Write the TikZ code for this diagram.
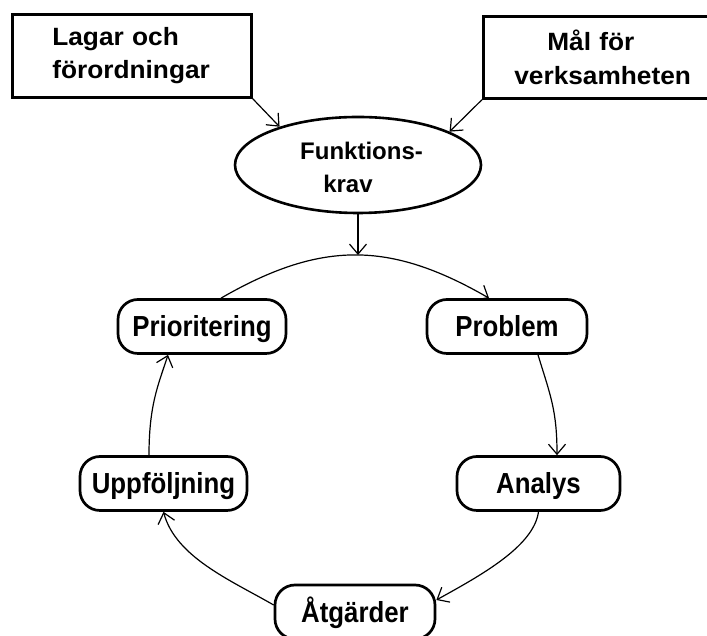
\documentclass[tikz,border=0pt]{standalone}
\usepackage{fontspec}
\setmainfont{Liberation Sans}
\newfontfamily\topfont[FakeStretch=1.05]{Liberation Sans}
\newfontfamily\elfont{Liberation Sans}
\newfontfamily\nodefont[FakeStretch=0.89]{Liberation Sans}
\usetikzlibrary{arrows.meta,shapes.geometric,calc}
\begin{document}
\begin{tikzpicture}[x=1pt,y=1pt,
  tbox/.style={draw, line width=2.7pt, rectangle, inner ysep=0pt, align=left,
    font=\topfont\bfseries\fontsize{25}{33.5}\selectfont, anchor=north west},
  rbox/.style={draw, line width=2.7pt, rounded corners=20pt, inner sep=0pt,
    minimum height=54pt, text height=21pt, text depth=0pt,
    font=\nodefont\bfseries\fontsize{29}{33}\selectfont},
  conn/.style={line width=1.2pt, -{Straight Barb[length=10pt,width=17pt]}}]
\useasboundingbox (0,0) rectangle (707,636);
\clip (0,0) rectangle (707,636);
\fill[white] (0,0) rectangle (707,636);
% top boxes
\node[tbox, minimum height=83pt, text width=159pt, inner xsep=40pt] (law) at (11,623)
  {Lagar och\\förordningar};
\node[tbox, minimum height=82pt, text width=190pt, inner xsep=31pt] (goal) at (482,621)
  {\hspace*{33pt}Mål för\\verksamheten};
% ellipse
\node[draw, ellipse, line width=2.6pt, minimum width=246pt, minimum height=96pt,
  inner sep=0pt, align=center, font=\elfont\bfseries\fontsize{24}{33}\selectfont]
  (fk) at (358,471) {\rule{0pt}{23pt}\hspace*{7pt}Funktions-\\krav\hspace*{20pt}};
% cycle nodes
\node[rbox, minimum width=168pt] (prio) at (202,309.5) {Prioritering};
\node[rbox, minimum width=160pt] (prob) at (507,309.5) {Problem};
\node[rbox, minimum width=167pt] (upp) at (163.5,152.5) {Uppföljning};
\node[rbox, minimum width=163pt] (ana) at (538.5,152.5) {Analys};
\node[rbox, minimum width=160pt] (atg) at (355,24) {Åtgärder};
\coordinate (cyctop) at (358,381);
% connectors
\draw[conn] (law.south east) -- (fk.154.6);
\draw[conn] (goal.south west) -- (fk.20);
\draw[conn] (fk.south) -- (cyctop);
\draw[conn] ([xshift=19pt]prio.north) to[out=30,in=150,distance=115pt] ([xshift=-18pt]prob.north);
\draw[conn] ([xshift=31pt]prob.south) to[out=-73,in=90,out distance=42pt,in distance=45pt] ([xshift=18.5pt]ana.north);
\draw[conn] (ana.south) to[out=-98,in=29,out distance=35pt,in distance=51pt] ([yshift=12pt]atg.east);
\draw[conn] ([yshift=7pt]atg.west) to[out=150,in=-75,out distance=49pt,in distance=47pt] (upp.south);
\draw[conn] ([xshift=-14.5pt]upp.north) to[out=90,in=-108,out distance=50pt,in distance=32pt] ([xshift=-34pt]prio.south);
\end{tikzpicture}
\end{document}
